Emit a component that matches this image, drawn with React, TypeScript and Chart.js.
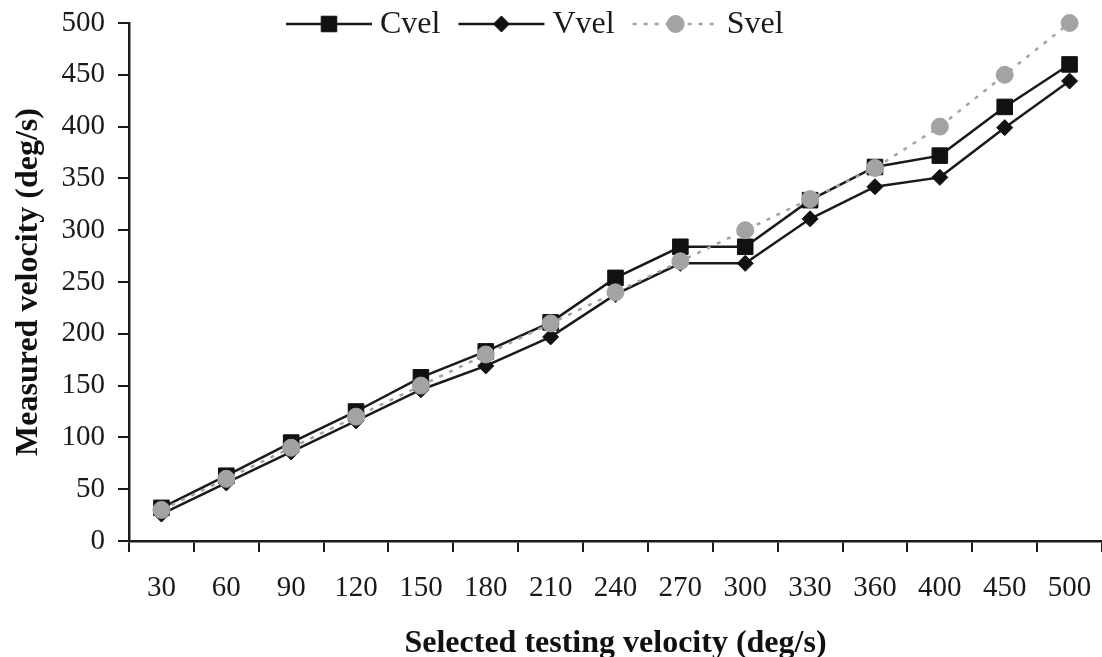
import React, { useEffect, useRef } from "react";
import { Chart, registerables } from "chart.js";

Chart.register(...registerables);

const categories = ["30", "60", "90", "120", "150", "180", "210", "240", "270", "300", "330", "360", "400", "450", "500"];
const cvel = [32, 63, 95, 125, 158, 183, 211, 254, 284, 284, 329, 361, 372, 419, 460];
const vvel = [26, 56, 86, 116, 146, 169, 197, 238, 268, 268, 311, 342, 351, 399, 444];
const svel = [30, 60, 90, 120, 150, 180, 210, 240, 270, 300, 330, 360, 400, 450, 500];
const seriesNames = ["Cvel", "Vvel", "Svel"];
const yTicks = [0, 50, 100, 150, 200, 250, 300, 350, 400, 450, 500];

const FONT = "'Liberation Serif', 'Times New Roman', serif";
const INK = "#1a1a1a";
const GREY = "#a3a3a3";

function drawMarker(ctx: CanvasRenderingContext2D, style: string, x: number, y: number, r: number, fill: string, stroke: string) {
  ctx.save();
  ctx.setLineDash([]);
  ctx.fillStyle = fill;
  ctx.strokeStyle = stroke;
  ctx.lineWidth = 1;
  ctx.beginPath();
  if (style === "rect") {
    const s = Math.SQRT1_2 * r;
    ctx.rect(x - s, y - s, 2 * s, 2 * s);
  } else if (style === "rectRot") {
    ctx.moveTo(x, y - r);
    ctx.lineTo(x + r, y);
    ctx.lineTo(x, y + r);
    ctx.lineTo(x - r, y);
    ctx.closePath();
  } else {
    ctx.arc(x, y, r, 0, Math.PI * 2);
  }
  ctx.fill();
  ctx.stroke();
  ctx.restore();
}

const legendPlugin = {
  id: "lineLegend",
  afterDraw(chart: any) {
    const ctx: CanvasRenderingContext2D = chart.ctx;
    const y = 24;
    let x = 286;
    const lineLen = 86;
    ctx.save();
    ctx.font = `32px ${FONT}`;
    ctx.textBaseline = "middle";
    ctx.textAlign = "left";
    chart.data.datasets.forEach((ds: any) => {
      ctx.save();
      ctx.strokeStyle = ds.borderColor;
      ctx.lineWidth = ds.borderWidth;
      ctx.setLineDash(ds.borderDash || []);
      ctx.beginPath();
      ctx.moveTo(x, y);
      ctx.lineTo(x + lineLen, y);
      ctx.stroke();
      ctx.restore();
      drawMarker(ctx, ds.pointStyle, x + lineLen / 2, y, ds.pointRadius, ds.pointBackgroundColor, ds.pointBorderColor);
      ctx.fillStyle = INK;
      const tx = x + lineLen + 8;
      ctx.fillText(ds.label, tx, y + 1);
      x = tx + ctx.measureText(ds.label).width + 18;
    });
    ctx.restore();
  },
};

export default function App() {
  const ref = useRef<HTMLCanvasElement | null>(null);

  useEffect(() => {
    if (!ref.current) return;
    Chart.defaults.font.family = FONT;
    const chart = new Chart(ref.current, {
      type: "line",
      data: {
        labels: categories,
        datasets: [
          {
            label: seriesNames[0],
            data: cvel,
            borderColor: INK,
            borderWidth: 2.5,
            pointStyle: "rect",
            pointRadius: 11,
            pointBackgroundColor: "#111",
            pointBorderColor: "#111",
            pointBorderWidth: 1,
            order: 1,
            clip: false,
            tension: 0,
          } as any,
          {
            label: seriesNames[1],
            data: vvel,
            borderColor: INK,
            borderWidth: 2.5,
            pointStyle: "rectRot",
            pointRadius: 8,
            pointBackgroundColor: "#111",
            pointBorderColor: "#111",
            pointBorderWidth: 1,
            order: 2,
            clip: false,
            tension: 0,
          } as any,
          {
            label: seriesNames[2],
            data: svel,
            borderColor: GREY,
            borderWidth: 2.5,
            borderDash: [4, 7],
            pointStyle: "circle",
            pointRadius: 8.5,
            pointBackgroundColor: GREY,
            pointBorderColor: GREY,
            pointBorderWidth: 1,
            order: 0,
            clip: false,
            tension: 0,
          } as any,
        ],
      },
      options: {
        animation: false,
        responsive: false,
        layout: { autoPadding: false, padding: { top: 23, right: 0, bottom: 0, left: 0 } },
        plugins: {
          legend: { display: false },
          tooltip: { enabled: false },
        },
        scales: {
          x: {
            type: "category",
            offset: true,
            grid: {
              offset: true,
              drawOnChartArea: false,
              drawTicks: true,
              tickLength: 11,
              color: INK,
              lineWidth: 2,
            },
            border: { display: true, color: INK, width: 2.5 },
            ticks: {
              color: INK,
              font: { size: 29, family: FONT },
              padding: 19,
              maxRotation: 0,
              autoSkip: false,
            },
            title: {
              display: true,
              text: "Selected testing velocity (deg/s)",
              color: "#111",
              font: { size: 32, weight: "bold", family: FONT, lineHeight: 0.85 },
              padding: { top: 0, bottom: 0 },
            },
            afterFit: (s: any) => {
              s.height = 116;
              s.paddingLeft = 0;
              s.paddingRight = 0;
            },
          },
          y: {
            min: 0,
            max: 500,
            afterBuildTicks: (s: any) => {
              s.ticks = yTicks.map((v) => ({ value: v }));
            },
            grid: {
              drawOnChartArea: false,
              drawTicks: true,
              tickLength: 11,
              color: INK,
              lineWidth: 2,
            },
            border: { display: true, color: INK, width: 2.5 },
            ticks: {
              color: INK,
              font: { size: 29, family: FONT },
              padding: 13,
            },
            title: {
              display: true,
              text: "Measured velocity (deg/s)",
              color: "#111",
              font: { size: 32, weight: "bold", family: FONT, lineHeight: 1.2 },
              padding: { top: 10, bottom: 0 },
            },
            afterFit: (s: any) => {
              s.width = 129;
              s.paddingTop = 0;
              s.paddingBottom = 0;
            },
          },
        },
      },
      plugins: [legendPlugin],
    });
    return () => chart.destroy();
  }, []);

  return (
    <div style={{ position: "fixed", left: 0, top: 0, width: 1102, height: 657, background: "#fff", overflow: "hidden" }}>
      <canvas ref={ref} width={1102} height={657} style={{ display: "block" }} />
    </div>
  );
}
